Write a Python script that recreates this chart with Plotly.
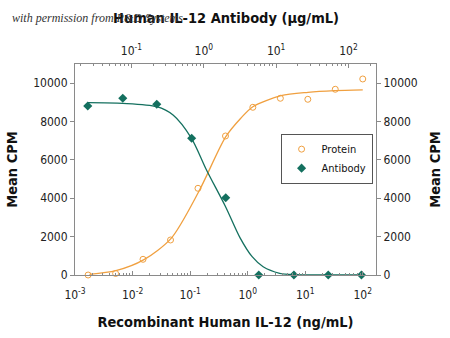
import plotly.graph_objects as go

# Recombinant human IL-12 protein (ng/mL) vs. mean CPM
protein_conc = [0.00169, 0.00508, 0.0152, 0.0457, 0.137, 0.412, 1.23, 3.70, 11.1, 33.3, 100]
protein_cpm = [0, 80, 818, 1825, 4520, 7247, 8743, 9213, 9160, 9682, 10219]

# Anti-IL-12 antibody (ug/mL) vs. mean CPM
antibody_conc = [0.0249, 0.0759, 0.224, 0.68, 2.01, 5.75, 17.6, 52.5, 151]
antibody_cpm = [8811, 9213, 8900, 7127, 4030, 0, 0, 0, 0]

# Fitted curves, sampled along each axis
protein_fit_conc = [0.00178, 0.00513, 0.0158, 0.0468, 0.141, 0.417, 0.759, 1.23, 3.80, 11.2, 32.4, 100]
protein_fit_cpm = [36, 225, 800, 1910, 4340, 7210, 8170, 8775, 9350, 9525, 9610, 9650]

antibody_fit_conc = [0.0251, 0.0759, 0.224, 0.376, 0.676, 1.09, 2.0, 3.16, 4.66, 6.61, 11.2, 17.6, 52.5, 151]
antibody_fit_cpm = [8985, 8950, 8775, 8340, 7125, 5475, 3560, 1950, 955, 430, 90, 15, 0, 0]

# Axis tick positions and labels
bottom_tickvals = [0.001, 0.01, 0.1, 1, 10, 100]
bottom_ticktext = ["10<sup>-3</sup>", "10<sup>-2</sup>", "10<sup>-1</sup>",
                   "10<sup>0</sup>", "10<sup>1</sup>", "10<sup>2</sup>"]
top_tickvals = [0.1, 1, 10, 100]
top_ticktext = ["10<sup>-1</sup>", "10<sup>0</sup>", "10<sup>1</sup>", "10<sup>2</sup>"]
cpm_tickvals = [0, 2000, 4000, 6000, 8000, 10000]
cpm_ticktext = ["0", "2000", "4000", "6000", "8000", "10000"]

ORANGE = "#F0A040"
TEAL = "#14705F"
AXIS = "#8A8A8A"
FONT = "DejaVu Sans Condensed, Liberation Sans Narrow, Liberation Sans, sans-serif"
TICKFONT = dict(family=FONT, size=12, color="#222")
TITLEFONT = dict(family=FONT, size=14.5, color="#111")

fig = go.Figure()

fig.add_trace(go.Scatter(
    x=protein_fit_conc, y=protein_fit_cpm, mode="lines",
    line=dict(color=ORANGE, width=1.3, shape="spline", smoothing=0.8),
    showlegend=False, hoverinfo="skip", xaxis="x", yaxis="y"))
fig.add_trace(go.Scatter(
    x=antibody_fit_conc, y=antibody_fit_cpm, mode="lines",
    line=dict(color=TEAL, width=1.3, shape="spline", smoothing=0.8),
    showlegend=False, hoverinfo="skip", xaxis="x2", yaxis="y"))

fig.add_trace(go.Scatter(
    x=protein_conc, y=protein_cpm, mode="markers", name="Protein",
    marker=dict(symbol="circle-open", size=6, color=ORANGE, line=dict(width=1)),
    xaxis="x", yaxis="y", cliponaxis=False))
fig.add_trace(go.Scatter(
    x=antibody_conc, y=antibody_cpm, mode="markers", name="Antibody",
    marker=dict(symbol="diamond", size=7, color=TEAL),
    xaxis="x2", yaxis="y", cliponaxis=False))

# invisible trace to carry the right-hand axis
fig.add_trace(go.Scatter(x=[1], y=[0], mode="markers", marker=dict(opacity=0),
                         showlegend=False, hoverinfo="skip", xaxis="x", yaxis="y2"))

common_x = dict(type="log", showgrid=False, zeroline=False, showline=True,
                linecolor=AXIS, linewidth=1, automargin=False,
                ticks="inside", ticklen=4, tickcolor=AXIS,
                minor=dict(ticks="inside", ticklen=2, tickcolor=AXIS, dtick="D1"),
                tickfont=TICKFONT)
common_y = dict(range=[0, 11000], tickvals=cpm_tickvals, ticktext=cpm_ticktext,
                showgrid=False, zeroline=False, showline=True, linecolor=AXIS,
                automargin=False,
                ticks="outside", ticklen=4, tickcolor=AXIS, tickfont=TICKFONT)

fig.update_layout(
    width=450, height=338,
    margin=dict(l=75, r=74, t=64, b=63),
    paper_bgcolor="white", plot_bgcolor="white",
    font=dict(family=FONT, color="#222"),
    xaxis=dict(common_x, range=[-3.0, 2.23], ticklabelstandoff=9,
               tickvals=bottom_tickvals, ticktext=bottom_ticktext,
               title=dict(text="<b>Recombinant Human IL-12 (ng/mL)</b>",
                          font=TITLEFONT, standoff=15)),
    xaxis2=dict(common_x, range=[-1.78, 2.38], overlaying="x", side="top",
                anchor="y", ticklabelstandoff=3,
                tickvals=top_tickvals, ticktext=top_ticktext),
    yaxis=dict(common_y,
               title=dict(text="<b>Mean CPM</b>", font=TITLEFONT, standoff=12)),
    yaxis2=dict(common_y, overlaying="y", side="right", anchor="x",
                title=dict(text="<b>Mean CPM</b>", font=TITLEFONT, standoff=12)),
    legend=dict(x=0.683, y=0.67, xanchor="left", yanchor="top",
                bgcolor="white", bordercolor="#555", borderwidth=1,
                font=dict(family=FONT, size=11, color="#111"),
                itemwidth=30, tracegroupgap=0),
    showlegend=True,
)

fig.add_annotation(text="<b>Human IL-12 Antibody (μg/mL)</b>", xref="paper", yref="paper",
                   x=0.5, y=1.0, yshift=56, showarrow=False, font=TITLEFONT)
fig.add_annotation(text="<i>with permission from R&D Systems</i>", xref="paper", yref="paper",
                   x=-0.215, xanchor="left", y=1.0, yshift=55, showarrow=False,
                   font=dict(family="Liberation Serif, DejaVu Serif, serif", size=12, color="#333"))

fig.write_html("out.html")
